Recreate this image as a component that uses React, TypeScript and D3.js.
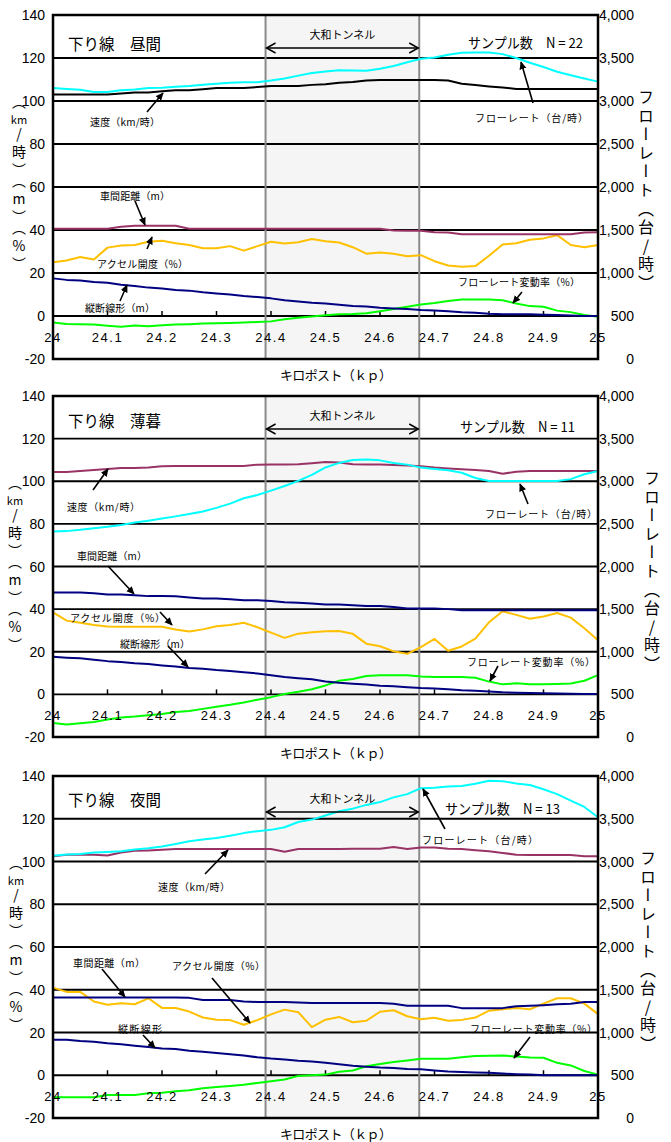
import * as d3 from 'd3';

// km posts sampled every 25 m
const KM = [
  24.0, 24.025, 24.05, 24.075, 24.1, 24.125, 24.15, 24.175, 24.2, 24.225,
  24.25, 24.275, 24.3, 24.325, 24.35, 24.375, 24.4, 24.425, 24.45, 24.475,
  24.5, 24.525, 24.55, 24.575, 24.6, 24.625, 24.65, 24.675, 24.7, 24.725,
  24.75, 24.775, 24.8, 24.825, 24.85, 24.875, 24.9, 24.925, 24.95, 24.975, 25.0,
];

// --- 昼間 (day) ---
const SPEED_DAY = [103, 103, 103, 103, 103, 103.5, 104, 104, 104.5, 105, 105, 105.5, 106, 106, 106, 106.5, 107, 107, 107, 107.5, 107.8, 108.5, 108.8, 109.5, 109.8, 109.8, 109.8, 109.8, 109.8, 109.5, 108, 107.4, 106.8, 106.3, 105.6, 105.6, 105.6, 105.6, 105.6, 105.6, 105.6];
const FLOW_DAY = [3150, 3140, 3130, 3105, 3105, 3125, 3135, 3150, 3155, 3165, 3175, 3190, 3200, 3212, 3218, 3218, 3238, 3262, 3295, 3325, 3342, 3358, 3355, 3352, 3375, 3408, 3450, 3490, 3505, 3538, 3562, 3565, 3565, 3545, 3500, 3445, 3395, 3340, 3300, 3262, 3225];
const HEADWAY_DAY = [40.6, 40.6, 40.6, 40.6, 40.6, 41.5, 42, 42, 42, 42, 40.6, 40.6, 40.6, 40.6, 40.6, 40.6, 40.6, 40.6, 40.6, 40.6, 40.6, 40.6, 40.6, 40.6, 40.6, 39.8, 39.7, 39.7, 39, 38.8, 38, 38, 38, 38, 38, 38, 38, 38, 38, 38.8, 39];
const ACCEL_DAY = [25, 25.8, 27.4, 26.3, 31.8, 32.8, 33, 34.5, 35, 33.8, 33, 31.5, 31.5, 32.5, 30.4, 32.5, 34.5, 33.7, 34.3, 35.8, 34.8, 34.2, 32, 29, 29.5, 29, 27.8, 28.3, 25.5, 23.5, 22.9, 23.2, 28, 33.3, 33.8, 35.5, 36.1, 37.6, 33, 32, 33];
const GRADE_DAY = [17.5, 16.8, 16.5, 15.8, 15.5, 14.5, 14, 13.2, 12.8, 12.1, 11.8, 11, 10.5, 10, 9.3, 8.8, 8.2, 7.3, 6.8, 6.2, 5.8, 5.2, 4.6, 4.4, 3.8, 3.5, 3.2, 2.8, 2.6, 2.2, 1.7, 1.5, 1, 0.8, 0.8, 0.8, 0.6, 0.5, 0.2, 0, 0];
const FLOWVAR_DAY = [-3, -3.7, -3.8, -4, -4.5, -5, -4.4, -4.8, -4.3, -4, -3.8, -3.5, -3.4, -3.2, -3, -2.8, -2.5, -1.5, -0.8, -0.2, 0.4, 0.8, 0.9, 1.3, 2.2, 3.3, 4.3, 5.3, 6, 7, 7.7, 7.7, 7.7, 7.3, 5.8, 4.6, 4.3, 2.5, 1.8, 0.5, -0.3];

// --- 薄暮 (dusk) ---
const SPEED_DUSK = [104.3, 104.3, 104.8, 105.3, 105.8, 106.2, 106.2, 106.5, 107, 107.1, 107.1, 107.1, 107.1, 107.1, 107.1, 107.8, 107.9, 107.9, 108, 108.5, 109, 108.8, 108, 107.9, 107.9, 107.6, 107.4, 107, 106.4, 106, 105.6, 105.3, 104.8, 103.5, 104.5, 104.8, 104.8, 104.8, 104.8, 104.8, 104.8];
const FLOW_DUSK = [2410, 2415, 2430, 2450, 2465, 2488, 2515, 2538, 2562, 2588, 2615, 2645, 2688, 2738, 2800, 2838, 2890, 2945, 3005, 3075, 3162, 3215, 3250, 3255, 3245, 3215, 3195, 3160, 3145, 3130, 3100, 3038, 3002, 3002, 3002, 3002, 3002, 3002, 3025, 3082, 3120];
const HEADWAY_DUSK = [47.8, 47.8, 47.8, 47.5, 46.9, 46.9, 46.5, 46.1, 46.1, 46, 45.5, 45, 45, 44.6, 44.2, 44.2, 43.8, 43.2, 43, 42.6, 42.2, 42.2, 41.8, 41.5, 41.5, 41, 40.3, 40.3, 40.3, 40, 39.5, 39.5, 39.5, 39.5, 39.5, 39.5, 39.5, 39.5, 39.5, 39.5, 39.5];
const ACCEL_DUSK = [38.5, 34.6, 33.6, 32.5, 31.8, 31.7, 31.7, 31.7, 31.7, 30.4, 29.5, 30.5, 32, 32.6, 33.6, 31.5, 29, 26.5, 28.5, 29.2, 29.6, 29.7, 28.4, 23.8, 22.6, 20.2, 19, 22.2, 26, 20.5, 22.5, 26.2, 33.8, 39, 37.3, 35.5, 36.5, 38.2, 36, 31, 25.4];
const GRADE_DUSK = [17.6, 17.2, 16.9, 16.2, 15.6, 15.2, 14.6, 14.2, 13.6, 13.1, 12.4, 12, 11.4, 11, 10.4, 9.8, 9, 8.2, 7.6, 7.1, 6, 5.4, 5, 4.6, 4.1, 3.8, 3.4, 3, 2.8, 2.4, 1.9, 1.7, 1.4, 1, 0.8, 0.6, 0.5, 0.4, 0.3, 0.2, 0.2];
const FLOWVAR_DUSK = [-13.4, -14.1, -13.5, -13, -11.8, -10.8, -10.4, -9.8, -9.2, -8.3, -7.8, -6.8, -5.8, -4.9, -3.8, -2.5, -1.3, 0.2, 1.2, 2.4, 4.2, 6.4, 7.2, 8.6, 9, 9, 9, 8.4, 8.2, 8.2, 8.2, 7.8, 6, 4.7, 5.2, 4.7, 4.7, 4.9, 5.1, 6.4, 9];

// --- 夜間 (night) ---
const SPEED_NIGHT = [102.4, 103.2, 103.2, 103.2, 102.8, 104.2, 105, 105.2, 105.5, 105.8, 105.8, 105.8, 105.8, 105.8, 105.8, 105.8, 105.8, 104.6, 105.8, 105.8, 105.8, 105.8, 106, 106, 106, 106.8, 105.9, 106.6, 106.6, 106, 105.8, 105.3, 104.8, 104, 103.2, 103, 103, 103, 103, 102.5, 102.4];
const FLOW_NIGHT = [3068, 3082, 3088, 3105, 3112, 3120, 3140, 3155, 3175, 3205, 3238, 3258, 3275, 3300, 3332, 3355, 3370, 3400, 3462, 3490, 3538, 3588, 3618, 3662, 3695, 3750, 3788, 3858, 3862, 3878, 3882, 3910, 3945, 3940, 3912, 3895, 3845, 3788, 3712, 3638, 3518];
const HEADWAY_NIGHT = [36.4, 36.4, 36.4, 36.4, 36.4, 36.4, 36.4, 36.4, 36.4, 36.4, 36.2, 35.2, 35.2, 35.2, 34.5, 34.3, 34.3, 34.3, 34, 33.8, 33.8, 33.8, 33.8, 33.8, 33.8, 33.5, 32.5, 32.5, 32.5, 32.5, 31.4, 31.4, 31.4, 31.4, 32.3, 32.5, 32.8, 33.2, 33.5, 34.3, 34.3];
const ACCEL_NIGHT = [41, 39, 39, 34.5, 33, 33.7, 33.2, 36, 31.5, 31.5, 29.8, 27, 26, 25.8, 23.6, 25.8, 28.5, 30.7, 29.5, 22.5, 26, 27.3, 24.8, 25.5, 29.7, 30.4, 27.6, 26.2, 26.9, 25.5, 25.9, 27, 30.2, 30.9, 31.5, 30.9, 33.5, 36, 36, 33.5, 28.6];
const GRADE_NIGHT = [16.6, 16.6, 16, 15.7, 15, 14.5, 13.8, 13.2, 12.5, 12.3, 11.5, 11, 10.4, 9.8, 9.2, 8.4, 7.8, 7.4, 6.8, 6.4, 5.8, 5.2, 4.5, 4, 3.6, 3.4, 2.9, 2.8, 2.2, 1.7, 1.5, 1.3, 1.2, 0.8, 0.5, 0.3, 0, 0, 0, 0, 0];
const FLOWVAR_NIGHT = [-10.3, -10.3, -10.3, -10.3, -9.2, -9.2, -9.2, -8.4, -8.2, -7.5, -7, -6.1, -5.5, -5, -4.4, -3.6, -2.8, -2, -0.3, 0, 0.3, 1.6, 2.2, 4.2, 5.3, 6.2, 6.9, 7.7, 7.7, 7.7, 8.4, 9, 9.1, 9.2, 8.8, 8.3, 8.2, 5.8, 4.6, 2, 0.3];

const LEFT_TICKS = [140, 120, 100, 80, 60, 40, 20, 0, -20];
const RIGHT_TICKS = [4000, 3500, 3000, 2500, 2000, 1500, 1000, 500, 0];
const KP_TICKS = [24, 24.1, 24.2, 24.3, 24.4, 24.5, 24.6, 24.7, 24.8, 24.9, 25];
const TUNNEL = [24.39, 24.672];

// annotation layout, px relative to panel top
const NOTES_DAY = [
  { text: '速度（km/時）', x: 90, y: 106, w: 70, tail: [147, 97], head: [163, 78] },
  { text: 'フローレート（台/時）', x: 475, y: 102, w: 113, tail: [533, 88], head: [521, 47] },
  { text: '車間距離（m）', x: 100, y: 180, w: 70, tail: [135, 186], head: [145, 210] },
  { text: 'アクセル開度（%）', x: 97, y: 248, w: 91, tail: [147, 234], head: [152, 222] },
  { text: '縦断線形（m）', x: 85, y: 292, w: 70, tail: [120, 286], head: [127, 270] },
  { text: 'フローレート変動率（%）', x: 458, y: 266, w: 122, tail: [522, 277], head: [513, 288] },
];
const NOTES_DUSK = [
  { text: '速度（km/時）', x: 67, y: 110, w: 73, tail: [93, 94], head: [108, 73] },
  { text: 'フローレート（台/時）', x: 485, y: 117, w: 112, tail: [528, 108], head: [520, 88] },
  { text: '車間距離（m）', x: 77, y: 159, w: 70, tail: [108, 170], head: [134, 198] },
  { text: 'アクセル開度（%）', x: 70, y: 221, w: 95, tail: [160, 216], head: [172, 229] },
  { text: '縦断線形（m）', x: 120, y: 247, w: 70, tail: [168, 250], head: [188, 271] },
  { text: 'フローレート変動率（%）', x: 467, y: 265, w: 128, tail: [498, 270], head: [490, 285] },
];
const NOTES_NIGHT = [
  { text: '速度（km/時）', x: 158, y: 110, w: 72, tail: [205, 98], head: [228, 74] },
  { text: 'フローレート（台/時）', x: 422, y: 63, w: 116, tail: [445, 53], head: [423, 13] },
  { text: '車間距離（m）', x: 73, y: 186, w: 72, tail: [102, 193], head: [125, 221] },
  { text: 'アクセル開度（%）', x: 172, y: 189, w: 93, tail: [212, 202], head: [250, 247] },
  { text: '縦断線形', x: 118, y: 252, w: 44, tail: [143, 259], head: [155, 272] },
  { text: 'フローレート変動率（%）', x: 470, y: 252, w: 127, tail: [530, 261], head: [514, 282] },
];

const PANELS = [
  { top: 15, h: 344, title: '下り線　昼間', n: 'サンプル数　N = 22', nx: 468, ny: 27, titleY: 28, tunnelY: 33,
    speedColor: '#000000', headwayColor: '#993366', speed: SPEED_DAY, flow: FLOW_DAY, headway: HEADWAY_DAY,
    accel: ACCEL_DAY, grade: GRADE_DAY, flowVar: FLOWVAR_DAY, notes: NOTES_DAY, lx: 19, rx: 646 },
  { top: 396, h: 341, title: '下り線　薄暮', n: 'サンプル数　N = 11', nx: 460, ny: 30, titleY: 24, tunnelY: 33,
    speedColor: '#993366', headwayColor: '#000080', speed: SPEED_DUSK, flow: FLOW_DUSK, headway: HEADWAY_DUSK,
    accel: ACCEL_DUSK, grade: GRADE_DUSK, flowVar: FLOWVAR_DUSK, notes: NOTES_DUSK, lx: 15, rx: 652 },
  { top: 776, h: 342, title: '下り線　夜間', n: 'サンプル数　N = 13', nx: 445, ny: 32, titleY: 23, tunnelY: 36,
    speedColor: '#993366', headwayColor: '#000080', speed: SPEED_NIGHT, flow: FLOW_NIGHT, headway: HEADWAY_NIGHT,
    accel: ACCEL_NIGHT, grade: GRADE_NIGHT, flowVar: FLOWVAR_NIGHT, notes: NOTES_NIGHT, lx: 16, rx: 648 },
];

const W = 671;
const H = 1142;
const X0 = 53;
const X1 = 598;
const JP = "'Noto Sans CJK JP', 'Noto Sans', sans-serif";
const NUM = "'Liberation Sans Narrow', 'Liberation Sans', Arial, sans-serif";
const VERT = { writingMode: 'vertical-rl', textOrientation: 'upright' } as any;

function Panel({ p }) {
  const x = d3.scaleLinear().domain([24, 25]).range([X0, X1]);
  const y = d3.scaleLinear().domain([-20, 140]).range([p.top + p.h, p.top]);
  const yR = d3.scaleLinear().domain([0, 4000]).range([p.top + p.h, p.top]);
  const lineL = d3.line<number>().x((_, i) => x(KM[i])).y(v => y(v));
  const lineR = d3.line<number>().x((_, i) => x(KM[i])).y(v => yR(v));

  const series = [
    { d: lineL(p.flowVar), c: '#00ff00' },
    { d: lineL(p.grade), c: '#000080' },
    { d: lineL(p.accel), c: '#ffc000' },
    { d: lineL(p.headway), c: p.headwayColor },
    { d: lineL(p.speed), c: p.speedColor },
    { d: lineR(p.flow), c: '#00ffff' },
  ];
  const t0 = x(TUNNEL[0]);
  const t1 = x(TUNNEL[1]);
  const ay = p.top + p.tunnelY;

  return (
    <g>
      <rect x={t0} y={p.top} width={t1 - t0} height={p.h} fill="#f5f5f5" />
      {LEFT_TICKS.slice(1, -1).map(v => (
        <line key={v} x1={X0} x2={X1} y1={y(v)} y2={y(v)} stroke="#000" strokeWidth={1.8} />
      ))}
      {[t0, t1].map(tx => (
        <line key={tx} x1={tx} x2={tx} y1={p.top} y2={p.top + p.h} stroke="#8a8a8a" strokeWidth={2} />
      ))}
      {KP_TICKS.slice(1, -1).map(k => (
        <line key={k} x1={x(k)} x2={x(k)} y1={y(0)} y2={y(0) - 5} stroke="#000" strokeWidth={1.5} />
      ))}
      {series.map((s, i) => (
        <path key={i} d={s.d} fill="none" stroke={s.c} strokeWidth={2} strokeLinejoin="round" />
      ))}

      {/* tunnel arrow */}
      <line x1={t0 + 1} x2={t1 - 1} y1={ay} y2={ay} stroke="#000" strokeWidth={1.5} />
      <path d={`M${t0 + 10},${ay - 5} L${t0 + 1},${ay} L${t0 + 10},${ay + 5}`} fill="none" stroke="#000" strokeWidth={1.5} />
      <path d={`M${t1 - 10},${ay - 5} L${t1 - 1},${ay} L${t1 - 10},${ay + 5}`} fill="none" stroke="#000" strokeWidth={1.5} />
      <text x={(t0 + t1) / 2} y={ay - 9} textAnchor="middle" fontFamily={JP} fontSize={11}>大和トンネル</text>

      <text x={68} y={p.top + p.titleY} dominantBaseline="central" fontFamily={JP} fontSize={15.5}>{p.title}</text>
      <text x={p.nx} y={p.top + p.ny} dominantBaseline="central" fontFamily={JP} fontSize={14}
        textLength={115} lengthAdjust="spacingAndGlyphs">{p.n}</text>

      {p.notes.map((n, i) => (
        <g key={i}>
          <text x={n.x} y={p.top + n.y} dominantBaseline="central" fontFamily={JP} fontSize={10}
            textLength={n.w} lengthAdjust="spacing">{n.text}</text>
          <line x1={n.tail[0]} y1={p.top + n.tail[1]} x2={n.head[0]} y2={p.top + n.head[1]}
            stroke="#000" strokeWidth={1.6} markerEnd="url(#ah)" />
        </g>
      ))}

      {/* axis labels */}
      {LEFT_TICKS.map(v => (
        <text key={v} x={45} y={y(v)} textAnchor="end" dominantBaseline="central" fontFamily={NUM} fontSize={14}>{v}</text>
      ))}
      {RIGHT_TICKS.map(v => (
        <text key={v} x={634} y={yR(v)} textAnchor="end" dominantBaseline="central" fontFamily={NUM} fontSize={14}>
          {d3.format(',')(v)}
        </text>
      ))}
      {KP_TICKS.map(k => (
        <text key={k} x={x(k)} y={p.top + p.h - 22} textAnchor="middle" dominantBaseline="central"
          fontFamily={NUM} fontSize={13} letterSpacing={1.5}>{k}</text>
      ))}
      <text x={280} y={p.top + p.h + 15} dominantBaseline="central" fontFamily={JP} fontSize={13}
        textLength={112} lengthAdjust="spacing">キロポスト（ｋｐ）</text>

      {/* left axis title: （km/時）（m）（%） */}
      <text x={p.lx} y={p.top + 80} fontFamily={JP} fontSize={14} style={VERT}>（</text>
      <text x={p.lx} y={p.top + 104} textAnchor="middle" dominantBaseline="central" fontFamily={JP} fontSize={11}>km</text>
      <text x={p.lx} y={p.top + 112} fontFamily={JP} fontSize={14} letterSpacing={4} style={VERT}>/時）（m）（%）</text>

      {/* right axis title */}
      <text x={p.rx} y={p.top + 74} fontFamily={JP} fontSize={16} letterSpacing={2.6} style={VERT}>フローレート（台/時）</text>

      <rect x={X0} y={p.top} width={X1 - X0} height={p.h} fill="none" stroke="#000" strokeWidth={2.5} />
    </g>
  );
}

export default function App() {
  return (
    <svg width={W} height={H} style={{ position: 'absolute', left: 0, top: 0, background: '#fff' }}>
      <defs>
        <marker id="ah" viewBox="0 0 10 10" refX={9} refY={5} markerWidth={8} markerHeight={8}
          markerUnits="userSpaceOnUse" orient="auto">
          <path d="M0,0.5 L10,5 L0,9.5 z" fill="#000" />
        </marker>
      </defs>
      <rect width={W} height={H} fill="#fff" />
      {PANELS.map((p, i) => <Panel key={i} p={p} />)}
    </svg>
  );
}
